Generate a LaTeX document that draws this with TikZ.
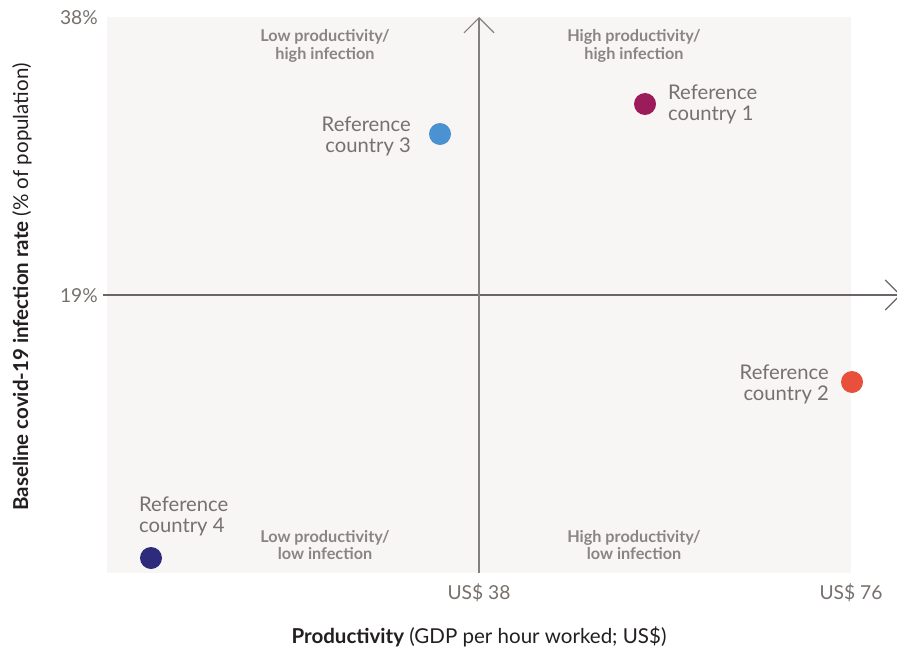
\documentclass[tikz,border=0pt]{standalone}
\usepackage{fontspec}
\setmainfont{Lato}
\usetikzlibrary{arrows.meta}
\definecolor{bgpanel}{HTML}{F7F6F4}
\definecolor{axisgrey}{HTML}{6A6664}
\definecolor{axisvgrey}{HTML}{84807E}
\definecolor{txtgrey}{HTML}{77716E}
\definecolor{quadgrey}{HTML}{8A8482}
\definecolor{titleblack}{HTML}{231F20}
\definecolor{cone}{HTML}{9C1C5B}
\definecolor{ctwo}{HTML}{E9503C}
\definecolor{cthree}{HTML}{4A92D2}
\definecolor{cfour}{HTML}{2E2B7C}
\begin{document}
\begin{tikzpicture}[x=1bp,y=-1bp,
  axisline/.style={draw=axisgrey, line width=1.1bp},
  chev/.style={-{Straight Barb[length=15bp,width=30bp]}},
  dot/.style={circle, inner sep=0pt, minimum size=22bp, draw=none},
  lbl/.style={text=txtgrey, inner sep=0pt, font=\fontsize{20.3}{21}\selectfont},
  quad/.style={text=quadgrey, inner sep=0pt, align=center, font=\fontsize{16.3}{18}\selectfont\bfseries},
  tick/.style={text=txtgrey, inner sep=0pt, font=\fontsize{19.3}{20}\selectfont},
  axtitle/.style={text=titleblack, inner sep=0pt, font=\fontsize{20.6}{22}\selectfont}
]
\useasboundingbox (0,0) rectangle (897,650);
\fill[white] (0,0) rectangle (897,650);
\fill[bgpanel] (107,17) rectangle (851,573);

\coordinate (xstart) at (103,295);
\coordinate (xend) at (901,295);
\coordinate (ystart) at (479,573);
\coordinate (yend) at (479,17);
\draw[axisline, chev] (xstart) -- (xend);
\draw[axisline, draw=axisvgrey, chev] (ystart) -- (yend);

\node[quad] (q1) at (325,46) {Low productivity/\\high infection};
\node[quad] (q2) at (634,46) {High productivity/\\high infection};
\node[quad] (q3) at (325,545) {Low productivity/\\low infection};
\node[quad] (q4) at (634,545) {High productivity/\\low infection};

\node[dot, fill=cone] (d1) at (645,104) {};
\node[dot, fill=ctwo] (d2) at (852,382) {};
\node[dot, fill=cthree] (d3) at (440,134) {};
\node[dot, fill=cfour] (d4) at (151,558) {};

\node[lbl, anchor=west, align=left] (l1) at (668,104) {Reference\\country 1};
\node[lbl, anchor=east, align=right] (l2) at (829,384) {Reference\\country 2};
\node[lbl, anchor=east, align=right] (l3) at (411,136) {Reference\\country 3};
\node[lbl, anchor=west, align=left] (l4) at (139,516) {Reference\\country 4};

\node[tick, anchor=east] (t38) at (98,18) {38\%};
\node[tick, anchor=east] (t19) at (98,296) {19\%};
\node[tick] (u38) at (479,593) {US\$ 38};
\node[tick] (u76) at (851,593) {US\$ 76};

\node[axtitle] (xt) at (479,637) {\textbf{Productivity} (GDP per hour worked; US\$)};
\node[axtitle, rotate=90] (yt) at (22,287) {\textbf{Baseline covid-19 infection rate} (\% of population)};
\end{tikzpicture}
\end{document}
